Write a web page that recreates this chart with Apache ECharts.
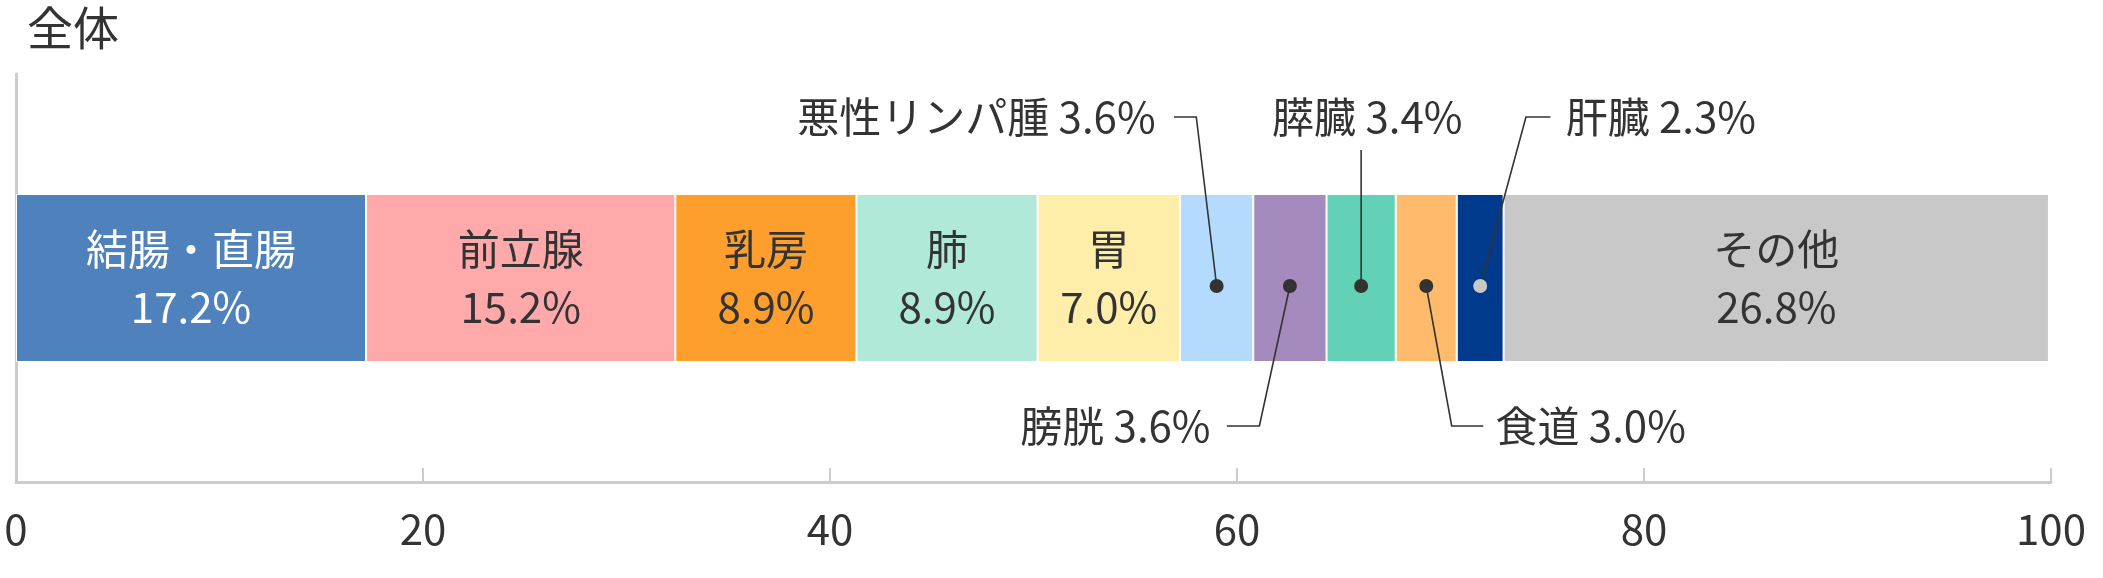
<!DOCTYPE html>
<html><head><meta charset="utf-8">
<script src="https://cdn.jsdelivr.net/npm/echarts@6/dist/echarts.min.js"></script>
<style>html,body{margin:0;padding:0;background:#fff}#c{width:2103px;height:578px}</style>
</head><body><div id="c"></div>
<script>
const categories = ['結腸・直腸','前立腺','乳房','肺','胃','悪性リンパ腫','膀胱','膵臓','食道','肝臓','その他'];
const values = [17.2,15.2,8.9,8.9,7.0,3.6,3.6,3.4,3.0,2.3,26.8];
const colors = ['#4f81bd','#ffa9ab','#fd9e2d','#b0e8d9','#ffedaa','#b4dbfd','#a58abe','#62d1b5','#ffbb6b','#003a8c','#c8c8c8'];
const xTicks = [0,20,40,60,80,100];
const insideLabels = [0,1,2,3,4,10];
// callout layout: index, elbow x, end x, text x (axis units), side, align
const callouts = [
  {i:5, ex:58.0, hx:56.9, tx:56.0, side:-1, align:'right'},
  {i:6, ex:61.1, hx:59.5, tx:58.7, side:1, align:'right'},
  {i:7, ex:null, hx:null, tx:66.4, side:-1, align:'center'},
  {i:8, ex:70.55, hx:72.1, tx:72.7, side:1, align:'left'},
  {i:9, ex:74.2, hx:75.4, tx:76.15, side:-1, align:'left'}
];
const font = '"Noto Sans CJK JP","Noto Sans",sans-serif';
const starts = []; let acc = 0;
values.forEach(v => { starts.push(acc); acc += v; });

const series = categories.map((c, k) => ({
  name: c, type: 'bar', stack: 's', barWidth: 168, data: [values[k]],
  itemStyle: {color: colors[k], borderColor: '#fff', borderWidth: 1},
  label: {show: insideLabels.includes(k), position: 'inside', formatter: c + '\n' + values[k].toFixed(1) + '%',
    fontFamily: font, fontSize: 42, lineHeight: 58, color: k === 0 ? '#fff' : '#333'}
}));
series.push({
  type: 'custom', coordinateSystem: 'cartesian2d', z: 10,
  data: callouts.map((o, n) => [starts[o.i] + values[o.i] / 2, 0, n]),
  renderItem: function (params, api) {
    const o = callouts[api.value(2)];
    const mid = api.value(0);
    const c = api.coord([mid, 0]);
    const dotY = c[1] + 8;
    const ly = c[1] + (o.side < 0 ? -161 : 148);
    const ch = [];
    let pts;
    if (o.ex === null) {
      pts = [[c[0], dotY], [c[0], c[1] - 128]];
    } else {
      const e = api.coord([o.ex, 0])[0], h = api.coord([o.hx, 0])[0];
      pts = [[c[0], dotY], [e, ly], [h, ly]];
    }
    ch.push({type: 'polyline', shape: {points: pts}, style: {stroke: '#333', lineWidth: 1.6, fill: null}});
    ch.push({type: 'circle', shape: {cx: c[0], cy: dotY, r: 7}, style: {fill: o.i === 9 ? '#c8c8c8' : '#333'}});
    const tx = api.coord([o.tx, 0])[0];
    ch.push({type: 'text', x: tx, y: ly, style: {text: categories[o.i] + ' ' + values[o.i].toFixed(1) + '%',
      fontFamily: font, fontSize: 42, fill: '#333', align: o.align, verticalAlign: 'middle'}});
    return {type: 'group', children: ch};
  }
});

const chart = echarts.init(document.getElementById('c'));
chart.setOption({
  animation: false,
  title: {text: '全体', left: 22, top: 0, textStyle: {fontFamily: font, fontSize: 46, fontWeight: 'normal', color: '#333'}},
  grid: {left: 16, right: 52, top: 74, bottom: 96},
  xAxis: {type: 'value', min: 0, max: 100, interval: 20,
    axisLine: {show: true, lineStyle: {color: '#ccc', width: 3}},
    axisTick: {show: true, inside: true, length: 14, lineStyle: {color: '#ccc', width: 2}},
    splitLine: {show: false},
    axisLabel: {fontFamily: font, fontSize: 42, color: '#333', margin: 26,
      formatter: v => xTicks.includes(v) ? String(v) : ''}},
  yAxis: {type: 'category', data: ['全体'], axisLine: {show: true, lineStyle: {color: '#ccc', width: 3}},
    axisTick: {show: false}, axisLabel: {show: false}},
  series: series
});
</script></body></html>
